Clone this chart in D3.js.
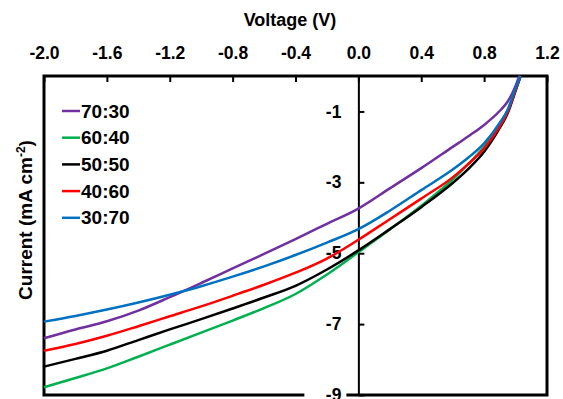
<!DOCTYPE html>
<html>
<head>
<meta charset="utf-8">
<script src="https://cdn.jsdelivr.net/npm/d3@7"></script>
<style>
  body { margin: 0; background: #fff; }
  text { font-family: "Liberation Sans", Arial, sans-serif; font-weight: bold; fill: #000; }
</style>
</head>
<body>
<div id="chart"></div>
<script>
// voltage points (V), shared by every series
var voltage = [-2.0, -1.8, -1.6, -1.4, -1.2, -1.0, -0.8, -0.6, -0.4, -0.2, 0.0, 0.2, 0.4, 0.6, 0.7, 0.8, 0.9, 0.95, 1.0];

// current density (mA cm-2) for each blend ratio
var j7030 = [-7.40, -7.15, -6.92, -6.62, -6.24, -5.84, -5.43, -5.02, -4.60, -4.17, -3.74, -3.17, -2.60, -2.00, -1.70, -1.38, -0.98, -0.72, -0.28];
var j6040 = [-8.78, -8.52, -8.25, -7.92, -7.58, -7.24, -6.90, -6.55, -6.15, -5.60, -4.97, -4.33, -3.66, -2.92, -2.48, -2.00, -1.36, -0.97, -0.37];
var j5050 = [-8.20, -7.98, -7.75, -7.45, -7.15, -6.86, -6.56, -6.25, -5.92, -5.46, -4.92, -4.32, -3.70, -3.02, -2.62, -2.14, -1.46, -1.05, -0.42];
var j4060 = [-7.75, -7.56, -7.33, -7.06, -6.78, -6.50, -6.20, -5.89, -5.55, -5.15, -4.62, -4.04, -3.46, -2.86, -2.48, -2.04, -1.42, -1.02, -0.40];
var j3070 = [-6.93, -6.77, -6.59, -6.39, -6.17, -5.93, -5.66, -5.37, -5.05, -4.70, -4.32, -3.80, -3.22, -2.64, -2.30, -1.90, -1.32, -0.95, -0.35];

// open-circuit voltage where each curve reaches zero current
var voc = [1.024, 1.032, 1.032, 1.032, 1.032];

var labels = ["70:30", "60:40", "50:50", "40:60", "30:70"];
var colors = ["#7030A0", "#00B050", "#000000", "#FF0000", "#0070C0"];
var xTicks = [-2.0, -1.6, -1.2, -0.8, -0.4, 0.0, 0.4, 0.8, 1.2];
var yTicks = [-1, -3, -5, -7, -9];

var width = 563, height = 399;
var plot = {left: 44, right: 547, top: 76, bottom: 395};

var series = [j7030, j6040, j5050, j4060, j3070].map(function(arr, k) {
    var pts = voltage.map(function(v, i) { return {v: v, j: arr[i]}; });
    pts.push({v: voc[k], j: 0});
    return {label: labels[k], color: colors[k], values: pts};
});

var x = d3.scaleLinear().domain([-2.0, 1.2]).range([plot.left, plot.right]);
var y = d3.scaleLinear().domain([0, -9]).range([plot.top, plot.bottom]);

var svg = d3.select("#chart").append("svg")
    .attr("width", width)
    .attr("height", height);

// frame
svg.append("rect")
    .attr("x", plot.left)
    .attr("y", plot.top)
    .attr("width", plot.right - plot.left)
    .attr("height", plot.bottom - plot.top)
    .attr("fill", "none")
    .attr("stroke", "#000")
    .attr("stroke-width", 3);

// top x axis, ticks pointing inward
var xAxis = svg.append("g")
    .attr("transform", "translate(0," + plot.top + ")")
    .call(d3.axisTop(x).tickValues(xTicks).tickSizeInner(-6).tickSizeOuter(0).tickPadding(17));
xAxis.select(".domain").remove();
xAxis.selectAll("line").attr("stroke", "#000").attr("stroke-width", 2);
xAxis.selectAll("text")
    .attr("font-family", null).attr("font-size", "17.5px").attr("fill", "#000")
    .text(function(d) { return d3.format(".1f")(d).replace("−", "-"); });

// y axis crossing at V = 0
var yAxis = svg.append("g")
    .attr("transform", "translate(" + x(0) + ",0)")
    .call(d3.axisLeft(y).tickValues(yTicks).tickSizeInner(-6).tickSizeOuter(0).tickPadding(17)
        .tickFormat(function(d) { return String(d); }));
yAxis.select(".domain").attr("stroke", "#000").attr("stroke-width", 2);
yAxis.selectAll("line").attr("stroke", "#000").attr("stroke-width", 2);
yAxis.selectAll(".tick").insert("rect", "text")
    .attr("x", -54).attr("y", -10)
    .attr("width", 42).attr("height", 20)
    .attr("fill", "#fff");
yAxis.selectAll("text")
    .attr("font-family", null).attr("font-size", "17.5px")
    .attr("fill", "#000");

// axis titles
svg.append("text")
    .attr("x", 290)
    .attr("y", 26)
    .attr("text-anchor", "middle")
    .attr("font-size", "18px")
    .text("Voltage (V)");

var yTitle = svg.append("text")
    .attr("transform", "translate(32,220) rotate(-90)")
    .attr("text-anchor", "middle")
    .attr("font-size", "19px");
yTitle.append("tspan").text("Current (mA cm");
yTitle.append("tspan").attr("baseline-shift", "super").attr("font-size", "12px").text("-2");
yTitle.append("tspan").text(")");

// curves
var line = d3.line()
    .x(function(d) { return x(d.v); })
    .y(function(d) { return y(d.j); })
    .curve(d3.curveMonotoneX);

svg.selectAll(".curve")
    .data(series)
    .enter().append("path")
    .attr("class", "curve")
    .attr("d", function(d) { return line(d.values); })
    .attr("fill", "none")
    .attr("stroke", function(d) { return d.color; })
    .attr("stroke-width", 2.5);

// legend
var legend = svg.selectAll(".legend")
    .data(series)
    .enter().append("g")
    .attr("class", "legend")
    .attr("transform", function(d, i) { return "translate(62," + (111 + i * 26.7) + ")"; });
legend.append("line")
    .attr("x1", 0).attr("x2", 18)
    .attr("stroke", function(d) { return d.color; })
    .attr("stroke-width", 2.5);
legend.append("text")
    .attr("x", 19)
    .attr("dy", "0.35em")
    .attr("font-size", "19px")
    .text(function(d) { return d.label; });
</script>
</body>
</html>
